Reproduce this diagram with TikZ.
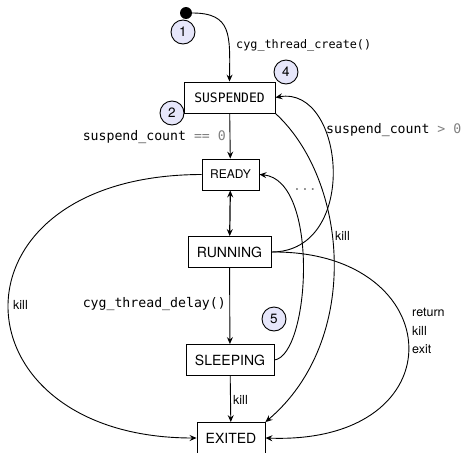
\documentclass[tikz,border=0pt]{standalone}
\usepackage{fontspec}
\setmainfont{TeX Gyre Heros}
\setmonofont{DejaVu Sans Mono}
\usetikzlibrary{arrows.meta}

\definecolor{badgefill}{RGB}{230,230,250}
\definecolor{opgray}{RGB}{128,128,128}
\newcommand{\op}[1]{\textcolor{opgray}{#1}}

\tikzset{
  state/.style={draw,line width=0.9pt,minimum height=31pt,inner sep=0pt,font=\fontsize{14}{16}\selectfont},
  badge/.style={circle,draw,line width=0.9pt,fill=badgefill,minimum size=24pt,inner sep=0pt,font=\fontsize{13.5}{15}\selectfont},
  code/.style={inner sep=0pt,font=\ttfamily\fontsize{13.2}{15}\selectfont},
  lbl/.style={inner sep=0pt,font=\fontsize{12.5}{18.5}\selectfont},
  edge/.style={line width=0.9pt,->},
}

\begin{document}
\begin{tikzpicture}[x=1pt,y=-1pt,>={Stealth[length=7pt,width=6pt,inset=2.5pt]}]
    \useasboundingbox (0,0) rectangle (464,453);

    %states
    \node[circle,fill,inner sep=0pt,minimum size=12pt] (start) at (186,13) {};
    \node[state,minimum width=91pt,font=\ttfamily\fontsize{13}{15}\selectfont] (suspended) at (229.5,97.5) {SUSPENDED};
    \node[state,minimum width=57pt,font=\fontsize{12}{15}\selectfont] (ready) at (230.5,174.5) {READY};
    \node[state,minimum width=83pt] (running) at (229.5,252) {RUNNING};
    \node[state,minimum width=88pt] (sleeping) at (230,360) {SLEEPING};
    \node[state,minimum width=68pt] (exited) at (231,438) {EXITED};

    %badges
    \node[badge] (b1) at (183,32) {1};
    \node[badge] (b2) at (172,113) {2};
    \node[badge] (b4) at (286,72) {4};
    \node[badge] (b5) at (274,319) {5};

    %straight transitions
    \draw[edge] (start.east) .. controls (232,13) and (230,35) .. (suspended.north);
    \draw[edge] (suspended) -- (ready);
    \draw[line width=1.2pt,<->] (ready) -- (running);
    \draw[edge] (running) -- (sleeping);
    \draw[edge] (sleeping) -- (exited);

    %curved transitions
    \draw[edge] (running.east) .. controls (360,252) and (345,85) .. (suspended.east);
    \draw[edge] (suspended.south east) .. controls (348,180) and (362,340) .. (exited.north east);
    \draw[edge] (sleeping.east) .. controls (310,355) and (320,180) .. (ready.east);
    \draw[edge] (ready.west) .. controls (-60,175) and (-50,438) .. (exited.west);
    \draw[edge] (running.east) .. controls (450,250) and (460,445) .. (exited.east);

    %labels
    \node[code,anchor=west,font=\ttfamily\fontsize{11.8}{15}\selectfont] (lcreate) at (236,45) {cyg\_thread\_create()};
    \node[code,anchor=east] (lzero) at (226,137) {suspend\_count \op{== 0}};
    \node[code,anchor=west] (lpos) at (326,130) {suspend\_count \op{> 0}};
    \node[code,anchor=east] (ldelay) at (226,304) {cyg\_thread\_delay()};
    \node[code,anchor=center,text=opgray] (ldots) at (305,190) {...};
    \node[lbl,anchor=west] (lkill1) at (335,236) {kill};
    \node[lbl,anchor=west] (lkill2) at (13,305) {kill};
    \node[lbl,anchor=west] (lkill3) at (233,400) {kill};
    \node[lbl,anchor=west,align=left] (lend) at (412,331) {return\\kill\\exit};
\end{tikzpicture}
\end{document}
